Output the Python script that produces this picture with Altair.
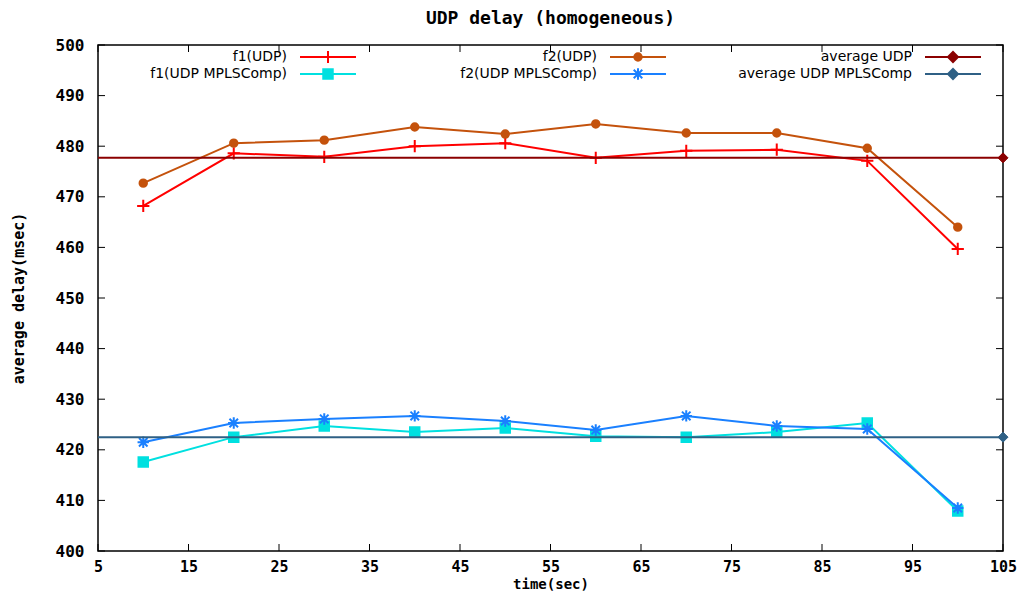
import altair as alt
import pandas as pd

# ---------------- data ----------------
time = [10, 20, 30, 40, 50, 60, 70, 80, 90, 100]
f1_udp = [468.2, 478.6, 477.9, 480.0, 480.6, 477.7, 479.1, 479.3, 477.1, 459.7]
f2_udp = [472.7, 480.6, 481.2, 483.8, 482.4, 484.4, 482.6, 482.6, 479.6, 464.0]
f1_mpls = [417.6, 422.5, 424.7, 423.5, 424.3, 422.7, 422.5, 423.5, 425.3, 407.9]
f2_mpls = [421.5, 425.3, 426.1, 426.7, 425.7, 423.9, 426.7, 424.7, 424.1, 408.5]
avg_udp = 477.7
avg_mpls = 422.5
x_ticks = [5, 15, 25, 35, 45, 55, 65, 75, 85, 95, 105]
y_ticks = [400, 410, 420, 430, 440, 450, 460, 470, 480, 490, 500]
x_domain = [5, 105]
y_domain = [400, 500]
series_names = ["f1(UDP)", "f2(UDP)", "average UDP",
                "f1(UDP MPLSComp)", "f2(UDP MPLSComp)", "average UDP MPLSComp"]
title_text = "UDP delay (homogeneous)"
x_title = "time(sec)"
y_title = "average delay(msec)"

# ---------------- styles ----------------
colors = ["#ff0000", "#c4520c", "#8b0000", "#00e0e0", "#1a80ff", "#2f6085"]
PLUS = "M-1,0L1,0M0,-1L0,1"
ASTER = "M-1,0L1,0M0,-1L0,1M-0.75,-0.75L0.75,0.75M-0.75,0.75L0.75,-0.75"
shapes = [PLUS, "circle", "diamond", "square", ASTER, "diamond"]
marker_size = {"f1(UDP)": 150, "f2(UDP)": 55, "average UDP": 100,
               "f1(UDP MPLSComp)": 90, "f2(UDP MPLSComp)": 130,
               "average UDP MPLSComp": 100}
W, H = 905, 506
MONO = "DejaVu Sans Mono"

color_scale = alt.Scale(domain=series_names, range=colors)
shape_scale = alt.Scale(domain=series_names, range=shapes)

rows = []
for name, vals in zip(["f1(UDP)", "f2(UDP)", "f1(UDP MPLSComp)", "f2(UDP MPLSComp)"],
                      [f1_udp, f2_udp, f1_mpls, f2_mpls]):
    for t, v in zip(time, vals):
        rows.append({"series": name, "time": t, "delay": v})
df = pd.DataFrame(rows)
df["sz"] = df.series.map(marker_size)
df_udp = df[df.series.isin(["f1(UDP)", "f2(UDP)"])]
df_mpls = df[df.series.isin(["f1(UDP MPLSComp)", "f2(UDP MPLSComp)"])]

avg_df = pd.DataFrame({
    "series": ["average UDP", "average UDP MPLSComp"],
    "delay": [avg_udp, avg_mpls],
    "x0": [x_domain[0]] * 2,
    "x1": [x_domain[1]] * 2,
})
avg_df["sz"] = avg_df.series.map(marker_size)

xs = alt.Scale(domain=x_domain, nice=False, zero=False)
ys = alt.Scale(domain=y_domain, nice=False, zero=False)

x_axis = alt.Axis(values=x_ticks, ticks=False, domain=False, grid=False,
                  labelPadding=8, titlePadding=3, labelFlush=False,
                  labelFontSize=15, titleFontSize=14)
y_axis = alt.Axis(values=y_ticks, ticks=False, domain=False, grid=False,
                  labelPadding=14, titlePadding=29, titleFontSize=15)


def marker_enc():
    return dict(
        fill=alt.Fill("series:N", scale=color_scale, legend=None),
        stroke=alt.Stroke("series:N", scale=color_scale, legend=None),
        shape=alt.Shape("series:N", scale=shape_scale, legend=None),
        size=alt.Size("sz:Q", scale=None, legend=None),
    )


def series_layers(d):
    line = alt.Chart(d).mark_line(strokeWidth=2).encode(
        x=alt.X("time:Q", scale=xs, axis=x_axis, title=x_title),
        y=alt.Y("delay:Q", scale=ys, axis=y_axis, title=y_title),
        color=alt.Color("series:N", scale=color_scale, legend=None),
        detail="series:N",
    )
    pts = alt.Chart(d).mark_point(filled=True, opacity=1, strokeWidth=2).encode(
        x=alt.X("time:Q", scale=xs),
        y=alt.Y("delay:Q", scale=ys),
        **marker_enc(),
    )
    return [line, pts]


def avg_layers(d):
    rule = alt.Chart(d).mark_rule(strokeWidth=2).encode(
        x=alt.X("x0:Q", scale=xs),
        x2="x1:Q",
        y=alt.Y("delay:Q", scale=ys),
        color=alt.Color("series:N", scale=color_scale, legend=None),
    )
    pt = alt.Chart(d).mark_point(filled=True, opacity=1, strokeWidth=1).encode(
        x=alt.X("x1:Q", scale=xs),
        y=alt.Y("delay:Q", scale=ys),
        **marker_enc(),
    )
    return [rule, pt]


# inward ticks on all four sides
TL = 7
xt = pd.DataFrame({"t": x_ticks})
yt = pd.DataFrame({"v": y_ticks})
tick_layers = [
    alt.Chart(xt).mark_rule(color="black", strokeWidth=1).encode(
        x=alt.X("t:Q", scale=xs), y=alt.value(H), y2=alt.value(H - TL)),
    alt.Chart(xt).mark_rule(color="black", strokeWidth=1).encode(
        x=alt.X("t:Q", scale=xs), y=alt.value(0), y2=alt.value(TL)),
    alt.Chart(yt).mark_rule(color="black", strokeWidth=1).encode(
        y=alt.Y("v:Q", scale=ys), x=alt.value(0), x2=alt.value(TL)),
    alt.Chart(yt).mark_rule(color="black", strokeWidth=1).encode(
        y=alt.Y("v:Q", scale=ys), x=alt.value(W), x2=alt.value(W - TL)),
]

# manual legend (label right-aligned, sample line + marker to its right)
col_text_x = [189, 499, 814]
row_y = [12, 29]
leg_rows = []
for i, name in enumerate(series_names):
    c, r = i % 3, i // 3
    tx = col_text_x[c]
    leg_rows.append({"series": name, "tx": tx, "lx1": tx + 13, "lx2": tx + 69,
                     "lxm": tx + 41, "ly": row_y[r], "sz": marker_size[name]})
leg = pd.DataFrame(leg_rows)
legend_layers = [
    alt.Chart(leg).mark_text(align="right", baseline="middle", font="DejaVu Sans",
                             fontSize=14, color="black").encode(
        x=alt.X("tx:Q", scale=None), y=alt.Y("ly:Q", scale=None), text="series:N"),
    alt.Chart(leg).mark_rule(strokeWidth=2).encode(
        x=alt.X("lx1:Q", scale=None), x2="lx2:Q", y=alt.Y("ly:Q", scale=None),
        color=alt.Color("series:N", scale=color_scale, legend=None)),
    alt.Chart(leg).mark_point(filled=True, opacity=1, strokeWidth=2).encode(
        x=alt.X("lxm:Q", scale=None), y=alt.Y("ly:Q", scale=None),
        **marker_enc()),
]

layers = (series_layers(df_udp)
          + avg_layers(avg_df[avg_df.series == "average UDP"])
          + series_layers(df_mpls)
          + avg_layers(avg_df[avg_df.series == "average UDP MPLSComp"])
          + tick_layers + legend_layers)

chart = alt.layer(*layers).properties(
    width=W, height=H,
    title=alt.Title(title_text, font=MONO, fontSize=18, fontWeight="bold",
                    color="black", offset=9, anchor="middle"),
    autosize=alt.AutoSizeParams(type="none"),
    padding={"left": 90, "top": 37, "right": 16, "bottom": 42},
).configure_view(
    stroke="black", strokeWidth=1.5
).configure_axis(
    labelFont=MONO, labelFontSize=16, labelFontWeight="bold", labelColor="black",
    titleFont=MONO, titleFontWeight="bold", titleColor="black",
)

chart.save("out.html", embed_options={"renderer": "svg", "actions": False})
